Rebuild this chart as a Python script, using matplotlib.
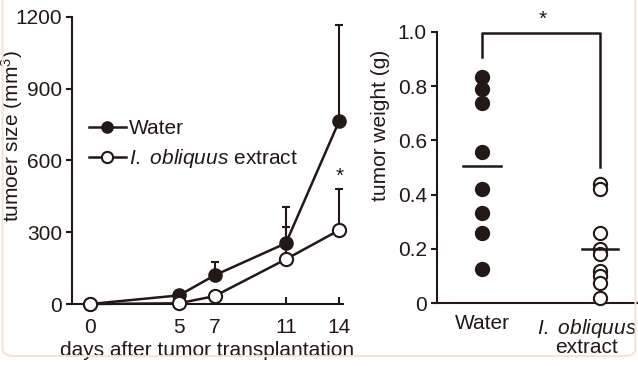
import matplotlib
matplotlib.use("Agg")
import matplotlib.pyplot as plt
from matplotlib.patches import FancyBboxPatch
import numpy as np

plt.rcParams['font.family'] = ['Liberation Sans', 'DejaVu Sans']
plt.rcParams['mathtext.fontset'] = 'custom'
plt.rcParams['mathtext.rm'] = 'Liberation Sans'
plt.rcParams['mathtext.it'] = 'Liberation Sans:italic'
plt.rcParams['mathtext.bf'] = 'Liberation Sans:bold'

# ---- data ----
days = [0, 5, 7, 11, 14]
water_size = [0, 36, 120, 254, 766]
water_err = [0, 0, 54, 153, 400]
extract_size = [0, 3, 33, 187, 309]
extract_err = [0, 0, 0, 136, 170]

water_weight = [0.832, 0.788, 0.739, 0.558, 0.42, 0.331, 0.26, 0.125]
extract_weight = [0.44, 0.42, 0.26, 0.20, 0.18, 0.12, 0.10, 0.075, 0.02]

size_ticks = [0, 300, 600, 900, 1200]
weight_ticks = [0, 0.2, 0.4, 0.6, 0.8, 1.0]
weight_ticklabels = ['0', '0.2', '0.4', '0.6', '0.8', '1.0']
species = r'$\mathit{I.}$ $\mathit{obliquus}$'
groups = ['Water', species + '\nextract']

INK = '#231815'
FS = 15

fig = plt.figure(figsize=(6.38, 3.66), dpi=100)
fig.patch.set_facecolor('white')

# faint card outline
card = FancyBboxPatch((0.004, 0.027), 0.992, 1.2, boxstyle="round,pad=0,rounding_size=0.02",
                      transform=fig.transFigure, facecolor='none', edgecolor='#f6e4d2',
                      linewidth=1.5)
fig.patches.append(card)

# ---- left panel ----
ax1 = fig.add_axes([72/638, 1-304/366, (343-72)/638, (304-17)/366])
ax1.errorbar(days, water_size, yerr=[np.zeros(len(days)), water_err], fmt='none',
             ecolor=INK, elinewidth=1.5, capsize=3.2, capthick=1.5, zorder=2)
ax1.errorbar(days, extract_size, yerr=[np.zeros(len(days)), extract_err], fmt='none',
             ecolor=INK, elinewidth=1.5, capsize=3.2, capthick=1.5, zorder=2)
ax1.plot(days, water_size, '-o', color=INK, lw=1.8, ms=9.5, mfc=INK, mec=INK,
         label='Water', zorder=3, clip_on=False)
ax1.plot(days, extract_size, '-o', color=INK, lw=1.8, ms=9.5, mfc='white', mec=INK,
         mew=1.5, label=species + ' extract', zorder=3, clip_on=False)
ax1.text(14, 532, '*', ha='center', va='center', fontsize=FS, color=INK)

ax1.set_xlim(-1.01, 14.21)
ax1.set_ylim(0, 1200)
ax1.set_xticks(days)
ax1.set_yticks(size_ticks)
ax1.tick_params(axis='x', direction='in', length=5, width=1.5, color=INK,
                labelsize=FS, pad=10, labelcolor=INK)
ax1.tick_params(axis='y', direction='out', length=4, width=1.5, color=INK,
                labelsize=FS, pad=3, labelcolor=INK)
for s in ['top', 'right']:
    ax1.spines[s].set_visible(False)
for s in ['left', 'bottom']:
    ax1.spines[s].set_color(INK)
    ax1.spines[s].set_linewidth(1.5)
ax1.set_xlabel('days after tumor transplantation', fontsize=FS, color=INK, labelpad=3)
ax1.set_ylabel('tumoer size (mm$^3$)', fontsize=FS, color=INK)
ax1.yaxis.set_label_coords(-0.172, 0.585)
leg = ax1.legend(loc='center left', bbox_to_anchor=(0.063, 0.555), frameon=False,
                 fontsize=FS, handlelength=1.75, handletextpad=0.15, labelspacing=0.45,
                 borderpad=0, borderaxespad=0, markerscale=0.85)
for t in leg.get_texts():
    t.set_color(INK)

# ---- right panel ----
ax2 = fig.add_axes([436.7/638, 1-303.3/366, (638-436.7)/638, (303.3-31.7)/366])
ax2.plot(np.full(len(water_weight), 1), water_weight, 'o', ms=10, mfc=INK, mec=INK,
         clip_on=False, zorder=3)
ax2.plot(np.full(len(extract_weight), 2), extract_weight, 'o', ms=9.5, mfc='white',
         mec=INK, mew=1.5, clip_on=False, zorder=3)
for xpos, vals, hw in [(1, water_weight, 0.16), (2, extract_weight, 0.15)]:
    m = np.mean(vals)
    ax2.plot([xpos - hw, xpos + hw], [m, m], color=INK, lw=1.8, zorder=4)
# significance bracket
ax2.plot([1, 1, 2, 2], [0.908, 0.994, 0.994, 0.503], color=INK, lw=1.8, clip_on=False)
ax2.text(1.51, 1.045, '*', ha='center', va='center', fontsize=FS, color=INK,
         transform=ax2.transData, clip_on=False)

ax2.set_xlim(0.616, 2.32)
ax2.set_ylim(0, 1.0)
ax2.set_yticks(weight_ticks)
ax2.set_yticklabels(weight_ticklabels)
ax2.set_xticks([1])
ax2.set_xticklabels([groups[0]])
ax2.tick_params(axis='x', length=0, labelsize=FS, pad=8, labelcolor=INK)
ax2.tick_params(axis='y', direction='out', length=4, width=1.5, color=INK,
                labelsize=FS, pad=3, labelcolor=INK)
for s in ['top', 'right']:
    ax2.spines[s].set_visible(False)
for s in ['left', 'bottom']:
    ax2.spines[s].set_color(INK)
    ax2.spines[s].set_linewidth(1.5)
ax2.set_ylabel('tumor weight (g)', fontsize=FS, color=INK)
ax2.yaxis.set_label_coords(-0.232, 0.655)

# second group label (italic species name + 'extract'), centred slightly left of its column
ax2.text(1.885, -0.05, groups[1], ha='center', va='top', multialignment='center',
         linespacing=0.85, fontsize=FS, color=INK, transform=ax2.transData, clip_on=False)

fig.savefig('out.png', dpi=100, facecolor='white')
